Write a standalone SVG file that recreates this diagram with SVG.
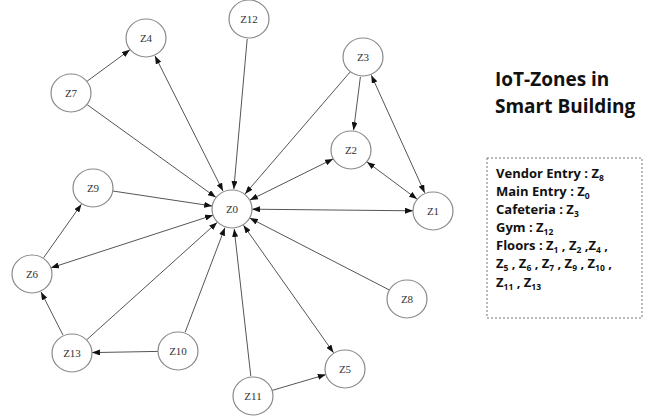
<svg xmlns="http://www.w3.org/2000/svg" width="651" height="417" viewBox="0 0 651 417">
<defs>
<marker id="ah" viewBox="0 0 8 6" refX="8" refY="3" markerWidth="8" markerHeight="6" markerUnits="userSpaceOnUse" orient="auto-start-reverse">
<path d="M0,0 L8,3 L0,6 z" fill="#111"/>
</marker>
<style>
.n ellipse{fill:#fff;stroke:#8a8a8a;stroke-width:1.2}
.n text{font-family:"Liberation Serif",serif;font-size:11px;fill:#333;text-anchor:middle;dominant-baseline:central}
.e line{stroke:#555;stroke-width:1;marker-end:url(#ah)}
.e line.b{marker-start:url(#ah)}
.t{font-family:"Open Sans","Liberation Sans",sans-serif;font-weight:bold;fill:#111}
.sub{font-size:8.5px}
</style>
</defs>
<rect width="651" height="417" fill="#fff"/>
<g class="e" id="connectors">
<line x1="87.1" y1="81.2" x2="129.9" y2="49.8"/>
<line class="b" x1="155" y1="55.9" x2="223" y2="191.1"/>
<line x1="87.2" y1="104.7" x2="215.8" y2="197.3"/>
<line x1="112.8" y1="191" x2="212.2" y2="206"/>
<line x1="247.2" y1="38.9" x2="233.8" y2="189.1"/>
<line x1="350" y1="72.1" x2="245.1" y2="193.9"/>
<line x1="360.4" y1="76.8" x2="353.6" y2="130.2"/>
<line class="b" x1="371.3" y1="75.2" x2="424.7" y2="192.8"/>
<line class="b" x1="333.1" y1="158.9" x2="249.9" y2="200.1"/>
<line class="b" x1="367" y1="161.9" x2="417" y2="199.1"/>
<line class="b" x1="252" y1="209.2" x2="413" y2="210.8"/>
<line x1="43.6" y1="257.7" x2="81.4" y2="204.3"/>
<line class="b" x1="213" y1="215.2" x2="51" y2="267.8"/>
<line x1="63" y1="335.1" x2="41" y2="291.9"/>
<line x1="86.9" y1="339.6" x2="217.1" y2="222.4"/>
<line x1="158" y1="351.4" x2="92" y2="352.6"/>
<line x1="185.1" y1="332.3" x2="224.9" y2="227.7"/>
<line x1="250.8" y1="376.1" x2="234.2" y2="228.9"/>
<line class="b" x1="243.5" y1="225.3" x2="333.5" y2="352.7"/>
<line x1="272.2" y1="390.4" x2="325.8" y2="374.6"/>
<line x1="389.2" y1="289.9" x2="249.8" y2="218.1"/>
</g>
<g class="n" id="Z0"><ellipse cx="232" cy="209" rx="20" ry="19"/><text x="232" y="209">Z0</text></g>
<g class="n" id="Z1"><ellipse cx="433" cy="211" rx="20" ry="19"/><text x="433" y="211">Z1</text></g>
<g class="n" id="Z2"><ellipse cx="351" cy="150" rx="20" ry="19"/><text x="351" y="150">Z2</text></g>
<g class="n" id="Z3"><ellipse cx="363" cy="57" rx="20" ry="19"/><text x="363" y="57">Z3</text></g>
<g class="n" id="Z4"><ellipse cx="146" cy="38" rx="20" ry="19"/><text x="146" y="38">Z4</text></g>
<g class="n" id="Z5"><ellipse cx="345" cy="369" rx="20" ry="19"/><text x="345" y="369">Z5</text></g>
<g class="n" id="Z6"><ellipse cx="32" cy="274" rx="20" ry="19"/><text x="32" y="274">Z6</text></g>
<g class="n" id="Z7"><ellipse cx="71" cy="93" rx="20" ry="19"/><text x="71" y="93">Z7</text></g>
<g class="n" id="Z8"><ellipse cx="407" cy="299" rx="20" ry="19"/><text x="407" y="299">Z8</text></g>
<g class="n" id="Z9"><ellipse cx="93" cy="188" rx="20" ry="19"/><text x="93" y="188">Z9</text></g>
<g class="n" id="Z10"><ellipse cx="178" cy="351" rx="20" ry="19"/><text x="178" y="351">Z10</text></g>
<g class="n" id="Z11"><ellipse cx="253" cy="396" rx="20" ry="19"/><text x="253" y="396">Z11</text></g>
<g class="n" id="Z12"><ellipse cx="249" cy="19" rx="20" ry="19"/><text x="249" y="19">Z12</text></g>
<g class="n" id="Z13"><ellipse cx="72" cy="353" rx="20" ry="19"/><text x="72" y="353">Z13</text></g>
<g id="title">
<text class="t" x="495" y="86" font-size="19">IoT-Zones in</text>
<text class="t" x="495" y="113" font-size="19">Smart Building</text>
</g>
<g id="legend">
<rect x="487" y="158" width="155" height="160" fill="none" stroke="#777" stroke-width="1" stroke-dasharray="2,2"/>
<text class="t" font-size="13">
<tspan x="496" y="178">Vendor Entry : Z<tspan class="sub" dy="2.5">8</tspan></tspan>
<tspan x="496" y="196">Main Entry : Z<tspan class="sub" dy="2.5">0</tspan></tspan>
<tspan x="496" y="214">Cafeteria : Z<tspan class="sub" dy="2.5">3</tspan></tspan>
<tspan x="496" y="232">Gym : Z<tspan class="sub" dy="2.5">12</tspan></tspan>
<tspan x="496" y="250">Floors :  Z<tspan class="sub" dy="2.5">1</tspan><tspan dy="-2.5">  , Z</tspan><tspan class="sub" dy="2.5">2</tspan><tspan dy="-2.5">  ,Z</tspan><tspan class="sub" dy="2.5">4</tspan><tspan dy="-2.5">  ,</tspan></tspan>
<tspan x="496" y="268">Z<tspan class="sub" dy="2.5">5</tspan><tspan dy="-2.5"> , Z</tspan><tspan class="sub" dy="2.5">6</tspan><tspan dy="-2.5"> , Z</tspan><tspan class="sub" dy="2.5">7</tspan><tspan dy="-2.5"> , Z</tspan><tspan class="sub" dy="2.5">9</tspan><tspan dy="-2.5"> , Z</tspan><tspan class="sub" dy="2.5">10</tspan><tspan dy="-2.5"> ,</tspan></tspan>
<tspan x="496" y="287">Z<tspan class="sub" dy="2.5">11</tspan><tspan dy="-2.5"> , Z</tspan><tspan class="sub" dy="2.5">13</tspan></tspan>
</text>
</g>
</svg>
